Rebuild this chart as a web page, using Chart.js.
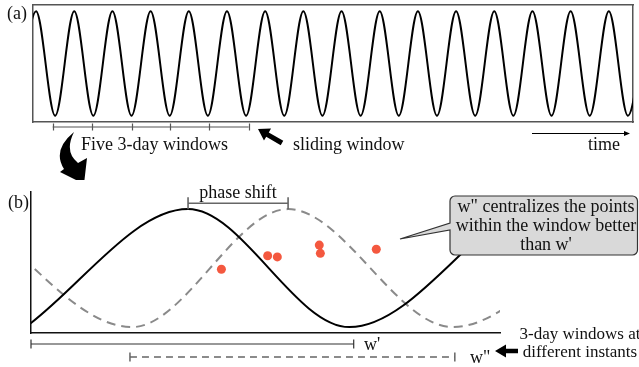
<!DOCTYPE html>
<html><head><meta charset="utf-8">
<script src="https://cdn.jsdelivr.net/npm/chart.js@4"></script>
<style>
html,body{margin:0;padding:0;background:#fff;}
#wrap{position:relative;width:639px;height:367px;overflow:hidden;font-family:'Liberation Serif','Times New Roman',serif;color:#111;}
#wrap canvas{position:absolute;left:0;}
.t{position:absolute;white-space:nowrap;}
</style></head><body>
<div id="wrap">
<canvas id="ca" width="639" height="180" style="top:0"></canvas>
<canvas id="cb" width="639" height="187" style="top:180px"></canvas>
</div>
<script>
// ---------- Panel (a): long periodic signal (time in days) ----------
const timeA   = [-1.5, 0, 1.5, 3, 4.5, 6, 7.5, 9, 10.5, 12, 13.5, 15, 16.5, 18, 19.5, 21, 22.5, 24,
                 25.5, 27, 28.5, 30, 31.5, 33, 34.5, 36, 37.5, 39, 40.5, 42, 43.5, 45, 46.5, 48];
const signalA = [-1, 1, -1, 1, -1, 1, -1, 1, -1, 1, -1, 1, -1, 1, -1, 1, -1, 1,
                 -1, 1, -1, 1, -1, 1, -1, 1, -1, 1, -1, 1, -1, 1, -1, 1];
const windowEdgesA = [1.3, 4.4, 7.5, 10.5, 13.6, 16.7];

// ---------- Panel (b): zoom on one window ----------
const solidDays  = [-0.05, 1.46, 2.96, 4.47];
const solidVals  = [-1, 1, -1, 1];
const dashedDays = [-0.59, 0.94, 2.39, 3.92, 5.48];
const dashedVals = [1, -1, 1, -1, 1];
const obsDays = [1.77, 2.20, 2.29, 2.68, 2.69, 3.21];
const obsVals = [-0.02, 0.21, 0.19, 0.39, 0.25, 0.32];
const phaseShiftDays = [1.46, 2.39];
const phaseShiftLevel = 1.10;
const windowW1 = [0, 3.0];
const windowW2 = [0.92, 3.94];

// ---------- text labels (layout) ----------
const labels = [
  ['(a)', 7, 19, 'left', 18],
  ['Five 3-day windows', 81, 150, 'left', 18],
  ['sliding window', 293, 150, 'left', 18],
  ['time', 588, 150, 'left', 18],
  ['(b)', 8, 208, 'left', 18],
  ['phase shift', 238, 198, 'center', 18],
  ['w" centralizes the points', 546, 212, 'center', 18],
  ['within the window better', 546, 231, 'center', 18],
  ["than w'", 546, 250, 'center', 18],
  ["w'", 364, 350, 'left', 18],
  ['w"', 470, 363, 'left', 18],
  ['3-day windows at', 580, 339, 'center', 17],
  ['different instants', 580, 357, 'center', 17]
];

function fatArrow(ctx, x1, y1, x2, y2, sw, hl, hw) {
  const dx = x2 - x1, dy = y2 - y1, L = Math.hypot(dx, dy);
  const ux = dx / L, uy = dy / L, nx = -uy, ny = ux;
  const bx = x2 - ux * hl, by = y2 - uy * hl;
  ctx.beginPath();
  ctx.moveTo(x1 + nx * sw, y1 + ny * sw);
  ctx.lineTo(bx + nx * sw, by + ny * sw);
  ctx.lineTo(bx + nx * hw, by + ny * hw);
  ctx.lineTo(x2, y2);
  ctx.lineTo(bx - nx * hw, by - ny * hw);
  ctx.lineTo(bx - nx * sw, by - ny * sw);
  ctx.lineTo(x1 - nx * sw, y1 - ny * sw);
  ctx.closePath();
  ctx.fill();
}

function hiddenAxis(extra) {
  return Object.assign({
    type: 'linear', display: true,
    grid: { display: false, drawTicks: false },
    ticks: { display: false },
    border: { display: true, color: '#555', width: 1.5 }
  }, extra);
}

const annotA = {
  id: 'annotA',
  afterDraw(chart) {
    const ctx = chart.ctx, xs = chart.scales.x, ca = chart.chartArea;
    ctx.save();
    const yb = ca.bottom + 5;
    ctx.strokeStyle = '#555'; ctx.lineWidth = 1.2;
    ctx.beginPath();
    ctx.moveTo(xs.getPixelForValue(windowEdgesA[0]), yb);
    ctx.lineTo(xs.getPixelForValue(windowEdgesA[windowEdgesA.length - 1]), yb);
    windowEdgesA.forEach(d => {
      const px = Math.round(xs.getPixelForValue(d)) + 0.5;
      ctx.moveTo(px, yb - 3.5); ctx.lineTo(px, yb + 3.5);
    });
    ctx.stroke();
    ctx.fillStyle = '#000';
    // sliding window arrow
    fatArrow(ctx, 282, 143, 258, 129, 2.5, 11, 7);
    // time arrow
    fatArrow(ctx, 532, 133.5, 630, 133.5, 0.5, 6, 2.5);
    // curved arrow
    ctx.beginPath();
    ctx.moveTo(74, 132);
    ctx.quadraticCurveTo(52, 150, 64, 169);
    ctx.lineTo(60, 172);
    ctx.lineTo(84, 184);
    ctx.lineTo(87, 158);
    ctx.lineTo(78, 163);
    ctx.quadraticCurveTo(64, 152, 74, 132);
    ctx.closePath();
    ctx.fill();
    ctx.restore();
  }
};

new Chart(document.getElementById('ca'), {
  type: 'scatter',
  data: { datasets: [{
    data: timeA.map((t, i) => ({ x: t, y: signalA[i] })),
    showLine: true, borderColor: '#000', borderWidth: 2, pointRadius: 0,
    cubicInterpolationMode: 'monotone', clip: 0
  }]},
  options: {
    responsive: false, animation: false, events: [],
    layout: { padding: { left: 33, top: 5, right: 6, bottom: 58 }, autoPadding: false },
    plugins: { legend: { display: false }, tooltip: { enabled: false } },
    scales: {
      x:  hiddenAxis({ min: -0.24, max: 46.9, position: 'bottom' }),
      x2: hiddenAxis({ min: -0.24, max: 46.9, position: 'top' }),
      y:  hiddenAxis({ min: -1.12, max: 1.12, position: 'left' }),
      y2: hiddenAxis({ min: -1.12, max: 1.12, position: 'right' })
    }
  },
  plugins: [annotA]
});

const annotB = {
  id: 'annotB',
  afterDraw(chart) {
    const ctx = chart.ctx, xs = chart.scales.x, ys = chart.scales.y, ca = chart.chartArea;
    ctx.save();
    // phase shift bracket
    const yp = ys.getPixelForValue(phaseShiftLevel);
    const p1 = xs.getPixelForValue(phaseShiftDays[0]), p2 = xs.getPixelForValue(phaseShiftDays[1]);
    ctx.strokeStyle = '#666'; ctx.lineWidth = 1.6;
    ctx.beginPath();
    ctx.moveTo(p1, yp); ctx.lineTo(p2, yp);
    ctx.moveTo(p1, yp - 6); ctx.lineTo(p1, yp + 6);
    ctx.moveTo(p2, yp - 6); ctx.lineTo(p2, yp + 6);
    ctx.stroke();
    // w' bracket
    const y1 = ca.bottom + 11;
    const a1 = xs.getPixelForValue(windowW1[0]), a2 = xs.getPixelForValue(windowW1[1]);
    ctx.strokeStyle = '#333'; ctx.lineWidth = 1.2;
    ctx.beginPath();
    ctx.moveTo(a1, y1); ctx.lineTo(a2, y1);
    ctx.moveTo(a1, y1 - 4.5); ctx.lineTo(a1, y1 + 4.5);
    ctx.moveTo(a2, y1 - 4.5); ctx.lineTo(a2, y1 + 4.5);
    ctx.stroke();
    // w'' bracket (dashed)
    const y2 = ca.bottom + 24;
    const b1 = xs.getPixelForValue(windowW2[0]), b2 = xs.getPixelForValue(windowW2[1]);
    ctx.strokeStyle = '#666'; ctx.lineWidth = 1.5;
    ctx.setLineDash([7, 5]);
    ctx.beginPath(); ctx.moveTo(b1, y2); ctx.lineTo(b2, y2); ctx.stroke();
    ctx.setLineDash([]);
    ctx.beginPath();
    ctx.moveTo(b1, y2 - 4.5); ctx.lineTo(b1, y2 + 4.5);
    ctx.moveTo(b2, y2 - 4.5); ctx.lineTo(b2, y2 + 4.5);
    ctx.stroke();
    // left arrow
    ctx.fillStyle = '#000';
    fatArrow(ctx, 518, 171, 495, 171, 2.2, 11, 6.5);
    // callout box
    const L = 450, T = 16, R = 637.5, B = 75, r = 5;
    ctx.beginPath();
    ctx.moveTo(L + r, T);
    ctx.lineTo(R - r, T); ctx.arcTo(R, T, R, T + r, r);
    ctx.lineTo(R, B - r); ctx.arcTo(R, B, R - r, B, r);
    ctx.lineTo(L + r, B); ctx.arcTo(L, B, L, B - r, r);
    ctx.lineTo(L, 50); ctx.lineTo(400, 59); ctx.lineTo(L, 43);
    ctx.lineTo(L, T + r); ctx.arcTo(L, T, L + r, T, r);
    ctx.closePath();
    ctx.fillStyle = '#d9d9d9'; ctx.fill();
    ctx.strokeStyle = '#333'; ctx.lineWidth = 1.2; ctx.stroke();
    ctx.restore();
  }
};

new Chart(document.getElementById('cb'), {
  type: 'scatter',
  data: { datasets: [
    { data: obsDays.map((d, i) => ({ x: d, y: obsVals[i] })), showLine: false,
      pointRadius: 4.5, backgroundColor: '#f4583f', borderWidth: 0 },
    { data: solidDays.map((d, i) => ({ x: d, y: solidVals[i] })), showLine: true,
      borderColor: '#000', borderWidth: 2, pointRadius: 0, cubicInterpolationMode: 'monotone', clip: 0 },
    { data: dashedDays.map((d, i) => ({ x: d, y: dashedVals[i] })), showLine: true,
      borderColor: '#8a8a8a', borderWidth: 2, borderDash: [9, 6], pointRadius: 0,
      cubicInterpolationMode: 'monotone', clip: 0 }
  ]},
  options: {
    responsive: false, animation: false, events: [],
    layout: { padding: { left: 31, top: 12, right: 139, bottom: 34 }, autoPadding: false },
    plugins: { legend: { display: false }, tooltip: { enabled: false } },
    scales: {
      x: hiddenAxis({ min: 0, max: 4.36, position: 'bottom', border: { display: true, color: '#111', width: 1.5 } }),
      y: hiddenAxis({ min: -1.10, max: 1.29, position: 'left', border: { display: true, color: '#111', width: 1.5 } })
    }
  },
  plugins: [annotB]
});

const wrap = document.getElementById('wrap');
labels.forEach(([txt, x, base, align, size]) => {
  const d = document.createElement('div');
  d.className = 't';
  d.textContent = txt;
  d.style.fontSize = size + 'px';
  d.style.lineHeight = size + 'px';
  d.style.top = (base - 0.837 * size) + 'px';
  d.style.left = x + 'px';
  if (align === 'center') d.style.transform = 'translateX(-50%)';
  wrap.appendChild(d);
});
</script>
</body></html>
